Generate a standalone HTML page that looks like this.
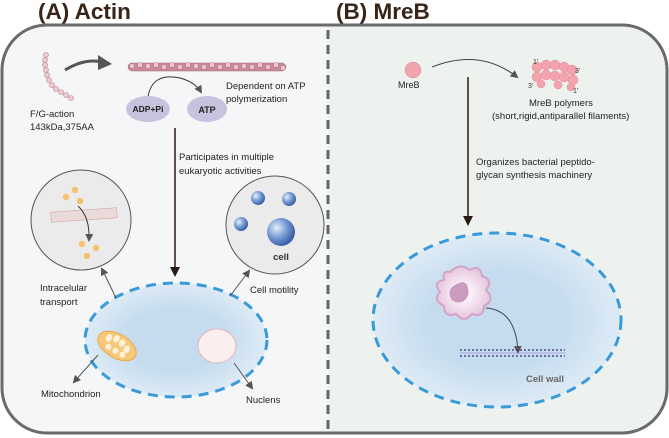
<!DOCTYPE html>
<html><head><meta charset="utf-8"><style>html,body{margin:0;padding:0;background:#fff}svg{display:block}text{font-family:"Liberation Sans",sans-serif}</style></head><body>
<svg width="669" height="438" viewBox="0 0 669 438" xmlns="http://www.w3.org/2000/svg">
<defs>
<radialGradient id="cg" cx="50%" cy="50%" r="55%"><stop offset="0.5" stop-color="#c5dcef"/><stop offset="1" stop-color="#e3eef7"/></radialGradient>
<radialGradient id="bb" cx="35%" cy="35%" r="65%"><stop offset="0" stop-color="#e8f0fb"/><stop offset="0.5" stop-color="#7fa2d8"/><stop offset="1" stop-color="#3b62a8"/></radialGradient>
<radialGradient id="am" cx="50%" cy="50%" r="50%"><stop offset="0.3" stop-color="#faf0f7"/><stop offset="1" stop-color="#e6c6df"/></radialGradient>
<marker id="ah" markerWidth="8" markerHeight="8" refX="6" refY="4" orient="auto" markerUnits="userSpaceOnUse"><path d="M0,0 L8,4 L0,8 Z" fill="#555"/></marker>
<marker id="ak" markerWidth="10" markerHeight="10" refX="8" refY="5" orient="auto" markerUnits="userSpaceOnUse"><path d="M0,0 L10,5 L0,10 Z" fill="#2a1a14"/></marker>
<clipPath id="fr"><rect x="2" y="25" width="665" height="408" rx="45"/></clipPath>
</defs>
<g clip-path="url(#fr)">
<rect x="0" y="0" width="328" height="438" fill="#f4f6f8"/>
<rect x="328" y="0" width="341" height="438" fill="#eef2ef"/>
</g>
<rect x="2" y="25" width="665" height="408" rx="45" fill="none" stroke="#6a6a6a" stroke-width="3"/>
<line x1="328" y1="30" x2="328" y2="433" stroke="#666" stroke-width="3" stroke-dasharray="9,6"/>
<text x="38" y="19" font-size="22.5" font-weight="bold" fill="#3a2418">(A) Actin</text>
<text x="336" y="19" font-size="22.5" font-weight="bold" fill="#3a2418">(B) MreB</text>
<g fill="#f2c9cc" stroke="#b58790" stroke-width="0.6">
<circle cx="46" cy="55" r="2.5"/><circle cx="45" cy="60" r="2.5"/><circle cx="45" cy="65" r="2.5"/><circle cx="46" cy="70" r="2.5"/><circle cx="47" cy="75" r="2.5"/><circle cx="49" cy="80" r="2.5"/><circle cx="52" cy="85" r="2.5"/><circle cx="56" cy="89" r="2.5"/><circle cx="61" cy="92" r="2.5"/><circle cx="66" cy="95" r="2.5"/><circle cx="71" cy="98" r="2.5"/>
</g>
<path d="M65,70 Q85,58 102,62" fill="none" stroke="#555" stroke-width="3"/>
<path d="M98,55 L112,64 L98,70 Z" fill="#555"/>
<rect x="128" y="63" width="158" height="8" rx="4" fill="#c98a9c" stroke="#a56a7a" stroke-width="0.5"/>
<g fill="#efc7cf" stroke="#a56a7a" stroke-width="0.4">
<circle cx="132" cy="66" r="2.4"/><circle cx="140" cy="65" r="2.4"/><circle cx="148" cy="66" r="2.4"/><circle cx="156" cy="65" r="2.4"/><circle cx="164" cy="67" r="2.4"/><circle cx="172" cy="65" r="2.4"/><circle cx="180" cy="67" r="2.4"/><circle cx="188" cy="65" r="2.4"/><circle cx="196" cy="66" r="2.4"/><circle cx="204" cy="67" r="2.4"/><circle cx="212" cy="65" r="2.4"/><circle cx="220" cy="67" r="2.4"/><circle cx="228" cy="65" r="2.4"/><circle cx="236" cy="67" r="2.4"/><circle cx="244" cy="66" r="2.4"/><circle cx="252" cy="67" r="2.4"/><circle cx="260" cy="65" r="2.4"/><circle cx="268" cy="67" r="2.4"/><circle cx="276" cy="65" r="2.4"/><circle cx="283" cy="68" r="2.4"/>
</g>
<path d="M148,97 Q152,72 180,78 Q195,82 201,92" fill="none" stroke="#333" stroke-width="1" marker-end="url(#ah)"/>
<ellipse cx="148" cy="109" rx="22" ry="13" fill="#c8c2df"/>
<ellipse cx="207" cy="109" rx="20" ry="13" fill="#c8c2df"/>
<text x="148" y="112" font-size="8.5" font-weight="bold" text-anchor="middle" fill="#222">ADP+Pi</text>
<text x="207" y="113" font-size="9" font-weight="bold" text-anchor="middle" fill="#222">ATP</text>
<text x="226" y="89" font-size="9.5" fill="#222">Dependent on ATP</text>
<text x="226" y="102" font-size="9.5" fill="#222">polymerization</text>
<text x="30" y="117" font-size="9.5" fill="#222">F/G-action</text>
<text x="30" y="130" font-size="9.5" fill="#222">143kDa,375AA</text>
<line x1="175" y1="128" x2="175" y2="275" stroke="#2a1a14" stroke-width="1.5" marker-end="url(#ak)"/>
<text x="179" y="160" font-size="9.5" fill="#222">Participates in multiple</text>
<text x="179" y="174" font-size="9.5" fill="#222">eukaryotic activities</text>
<circle cx="81" cy="220" r="50" fill="#ebebeb" stroke="#555" stroke-width="1"/>
<rect x="51" y="210" width="66" height="10" fill="#eadada" stroke="#d3a6ad" stroke-width="0.6" transform="rotate(-4 84 215)"/>
<g fill="#f6c06f"><circle cx="66" cy="197" r="3.2"/><circle cx="75" cy="190" r="3.2"/><circle cx="80" cy="201" r="3.2"/><circle cx="82" cy="244" r="3.2"/><circle cx="96" cy="248" r="3.2"/><circle cx="87" cy="256" r="3.2"/></g>
<path d="M78,206 Q90,217 89,240" fill="none" stroke="#333" stroke-width="1" marker-end="url(#ah)"/>
<circle cx="275" cy="225" r="49" fill="#ebebeb" stroke="#555" stroke-width="1"/>
<circle cx="258" cy="198" r="7" fill="url(#bb)"/><circle cx="289" cy="199" r="7" fill="url(#bb)"/><circle cx="241" cy="224" r="7" fill="url(#bb)"/><circle cx="281" cy="232" r="14" fill="url(#bb)"/>
<text x="281" y="260" font-size="9.5" font-weight="bold" text-anchor="middle" fill="#333">cell</text>
<ellipse cx="176" cy="340" rx="91" ry="57" fill="url(#cg)" stroke="#3a9ad9" stroke-width="3" stroke-dasharray="10,7"/>
<g transform="rotate(30 117 346)"><ellipse cx="117" cy="346" rx="21" ry="12" fill="#f7c878" stroke="#eaa94a" stroke-width="1"/>
<g fill="#fdf0d8"><ellipse cx="106" cy="343" rx="3" ry="4"/><ellipse cx="113" cy="340" rx="3" ry="4"/><ellipse cx="120" cy="341" rx="3" ry="4"/><ellipse cx="127" cy="344" rx="3" ry="4"/><ellipse cx="110" cy="351" rx="3" ry="3"/><ellipse cx="118" cy="351" rx="3" ry="3"/><ellipse cx="126" cy="351" rx="3" ry="3"/></g></g>
<ellipse cx="217" cy="346" rx="19" ry="17" fill="#fbeeee" stroke="#e5b5ba" stroke-width="1"/>
<line x1="116" y1="298" x2="102" y2="269" stroke="#555" stroke-width="1" marker-end="url(#ah)"/>
<line x1="230" y1="296" x2="249" y2="271" stroke="#555" stroke-width="1" marker-end="url(#ah)"/>
<line x1="98" y1="355" x2="74" y2="382" stroke="#555" stroke-width="1" marker-end="url(#ah)"/>
<line x1="234" y1="363" x2="252" y2="388" stroke="#555" stroke-width="1" marker-end="url(#ah)"/>
<text x="40" y="291" font-size="9.5" fill="#222">Intracelular</text>
<text x="40" y="305" font-size="9.5" fill="#222">transport</text>
<text x="250" y="293" font-size="9.5" fill="#222">Cell motility</text>
<text x="41" y="397" font-size="9.5" fill="#222">Mitochondrion</text>
<text x="246" y="403" font-size="9.5" fill="#222">Nuclens</text>
<circle cx="413" cy="70" r="8" fill="#f0a4ae" stroke="#e08a96" stroke-width="0.5"/>
<text x="398" y="88" font-size="9" fill="#222">MreB</text>
<path d="M432,67 Q480,48 517,77" fill="none" stroke="#444" stroke-width="1" marker-end="url(#ah)"/>
<g fill="#f2a3ad" stroke="#e58b97" stroke-width="0.5">
<circle cx="537" cy="67" r="5"/><circle cx="546" cy="65" r="5"/><circle cx="555" cy="65" r="5"/><circle cx="564" cy="67" r="5"/><circle cx="572" cy="70" r="5"/>
<circle cx="537" cy="77" r="5"/><circle cx="546" cy="75" r="5"/><circle cx="555" cy="76" r="5"/><circle cx="564" cy="77" r="5"/><circle cx="573" cy="80" r="5"/>
<circle cx="541" cy="84" r="4"/><circle cx="558" cy="85" r="4"/><circle cx="571" cy="87" r="4"/>
</g>
<text x="533" y="64" font-size="7" fill="#333">1'</text><text x="575" y="73" font-size="7" fill="#333">3'</text><text x="528" y="88" font-size="7" fill="#333">3'</text><text x="573" y="93" font-size="7" fill="#333">1'</text>
<text x="529" y="106" font-size="9.5" fill="#222">MreB polymers</text>
<text x="492" y="119" font-size="9.5" fill="#222">(short,rigid,antiparallel filaments)</text>
<line x1="468" y1="77" x2="468" y2="224" stroke="#2a1a14" stroke-width="1.5" marker-end="url(#ak)"/>
<text x="476" y="165" font-size="9.5" fill="#222">Organizes bacterial peptido-</text>
<text x="476" y="178" font-size="9.5" fill="#222">glycan synthesis machinery</text>
<ellipse cx="497" cy="320" rx="124" ry="87" fill="url(#cg)" stroke="#3a9ad9" stroke-width="3" stroke-dasharray="10,7"/>
<path d="M450,272 Q460,262 470,270 Q480,264 482,276 Q494,280 486,290 Q496,300 484,306 Q484,318 472,314 Q464,324 456,314 Q444,318 444,306 Q432,300 440,292 Q432,282 444,280 Q442,270 450,272 Z" fill="url(#am)" stroke="#d4a3c9" stroke-width="2"/>
<path d="M455,285 Q466,278 468,288 Q470,298 462,302 Q452,304 450,296 Q448,289 455,285 Z" fill="#c99bbf"/>
<path d="M486,308 Q516,310 518,352" fill="none" stroke="#444" stroke-width="1" marker-end="url(#ah)"/>
<line x1="460" y1="350" x2="565" y2="350" stroke="#3a2a7a" stroke-width="1.2" stroke-dasharray="2,2"/>
<line x1="460" y1="356" x2="565" y2="356" stroke="#3a2a7a" stroke-width="1.2" stroke-dasharray="2,2"/>
<line x1="460" y1="353" x2="565" y2="353" stroke="#8a6ad0" stroke-width="0.6"/>
<text x="526" y="382" font-size="9.5" font-weight="bold" fill="#666">Cell wall</text>
</svg>
</body></html>
